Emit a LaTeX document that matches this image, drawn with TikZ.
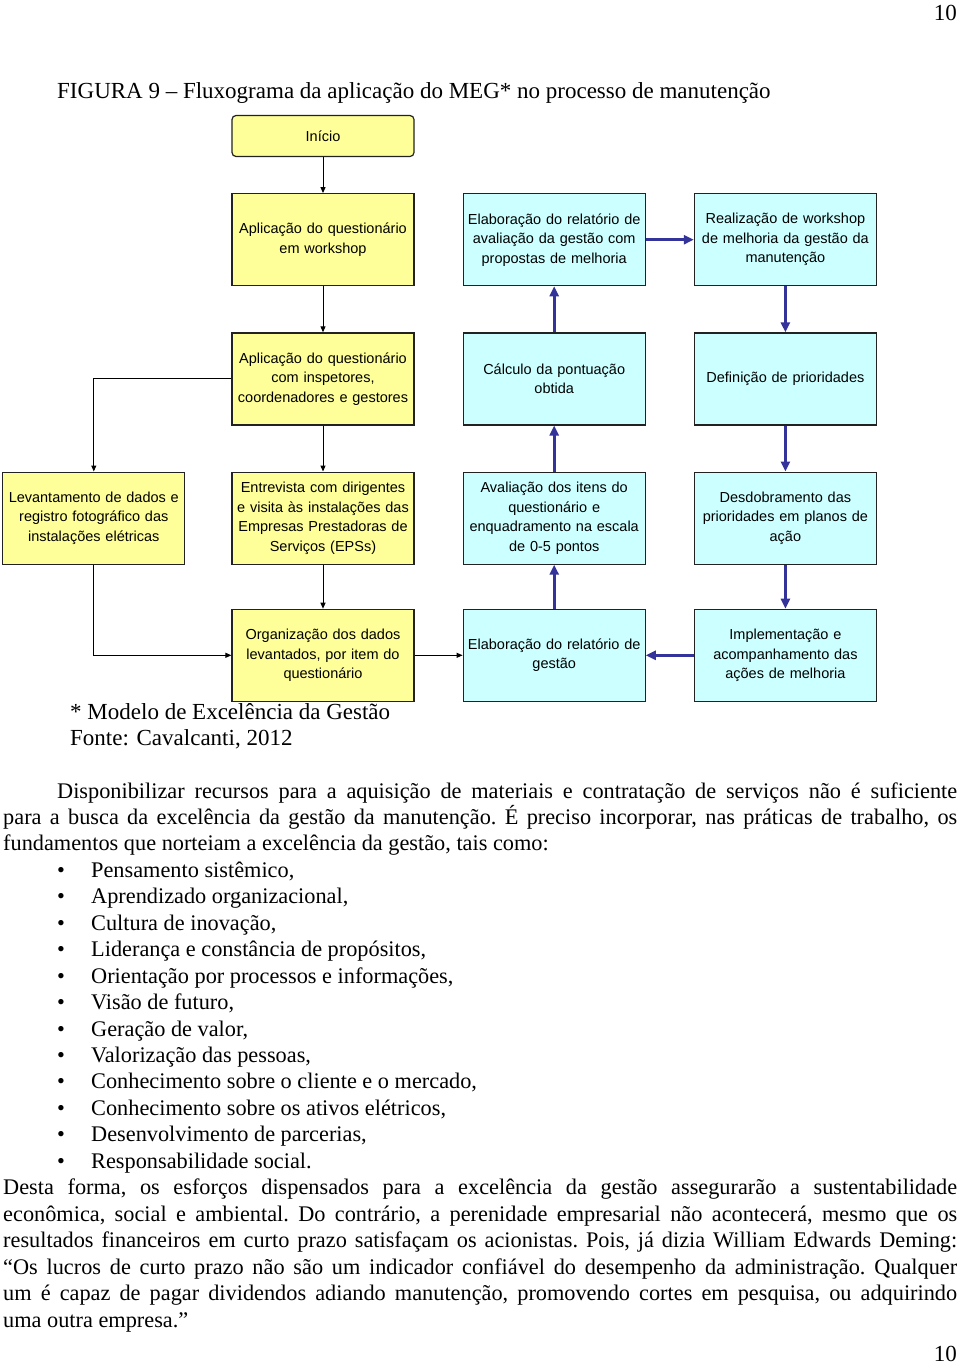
\documentclass[tikz,border=0pt]{standalone}
\usepackage{fontspec}
\setmainfont{Liberation Serif}
\setsansfont{Liberation Sans}
\usepackage{enumitem}
\usepackage{tikz}
\usetikzlibrary{positioning,arrows.meta}
\definecolor{amarelo}{HTML}{FFFF99}
\definecolor{ciano}{HTML}{CCFFFF}
\definecolor{azul}{HTML}{333399}
\definecolor{borda}{HTML}{222222}
\hyphenpenalty=10000
\exhyphenpenalty=10000
\newcommand{\caixafonte}{\sffamily\fontsize{14.5pt}{19.5pt}\selectfont}
\newcommand{\textofonte}{\rmfamily\fontsize{23pt}{26.45pt}\selectfont}
\newcommand{\corpofonte}{\rmfamily\fontsize{22.3pt}{26.45pt}\selectfont}
\tikzset{abox/.style={rectangle,draw=borda,line width=1.2pt,fill=amarelo,minimum width=182pt,minimum height=92pt,text width=178pt,align=center,inner sep=2pt,font=\caixafonte},
	 cbox/.style={abox,fill=ciano},
	 setap/.style={-{Triangle[length=6pt,width=5pt]},line width=1pt,black},
	 setaz/.style={-{Triangle[length=10pt,width=9pt]},line width=2.6pt,azul},
	 texto/.style={anchor=base west,inner sep=0pt,font=\textofonte},
	 node distance = 46pt and 48pt
	 }

\begin{document}
\begin{tikzpicture}[x=1pt,y=-1pt] % fluxograma MEG
	\useasboundingbox (0,0) rectangle (960,1365);
	\node[texto,anchor=base east] (pag1) at (957,20) {10};
	\node[texto] (titulo) at (57,98) {FIGURA 9 -- Fluxograma da aplicação do MEG* no processo de manutenção};
	\node[abox] (ini) at (323,136) [minimum width=158pt,minimum height=41pt,rounded corners=4pt] {Início};
	\node[abox] (qw) [below=36pt of ini] {Aplicação do questionário\\em workshop};
	\node[cbox] (rel) [right= of qw] {Elaboração do relatório de\\avaliação da gestão com\\propostas de melhoria};
	\node[cbox] (wks) [right= of rel] {Realização de workshop\\de melhoria da gestão da\\manutenção};
	\node[abox] (qi) [below= of qw] {Aplicação do questionário\\com inspetores,\\coordenadores e gestores};
	\node[cbox] (calc) [right= of qi] {Cálculo da pontuação\\obtida};
	\node[cbox] (prio) [right= of calc] {Definição de prioridades};
	\node[abox] (ent) [below= of qi] {Entrevista com dirigentes\\e visita às instalações das\\Empresas Prestadoras de\\Serviços (EPSs)};
	\node[abox] (lev) [left=46pt of ent] {Levantamento de dados e\\registro fotográfico das\\instalações elétricas};
	\node[cbox] (aval) [right= of ent] {Avaliação dos itens do\\questionário e\\enquadramento na escala\\de 0-5 pontos};
	\node[cbox] (desd) [right= of aval] {Desdobramento das\\prioridades em planos de\\ação};
	\node[abox] (org) [below=44pt of ent] {Organização dos dados\\levantados, por item do\\questionário};
	\node[cbox] (relg) [right= of org] {Elaboração do relatório de\\gestão};
	\node[cbox] (impl) [right= of relg] {Implementação e\\acompanhamento das\\ações de melhoria};
	\draw[setap] (ini) to (qw);
	\draw[setap] (qw) to (qi);
	\draw[setap] (qi) to (ent);
	\draw[setap] (qi.west) -| (lev.north);
	\draw[setap] (ent) to (org);
	\draw[setap] (lev.south) |- (org.west);
	\draw[setap] (org) to (relg);
	\draw[setaz] (relg) to (aval);
	\draw[setaz] (aval) to (calc);
	\draw[setaz] (calc) to (rel);
	\draw[setaz] (rel) to (wks);
	\draw[setaz] (wks) to (prio);
	\draw[setaz] (prio) to (desd);
	\draw[setaz] (desd) to (impl);
	\draw[setaz] (impl) to (relg);
	\node[texto] (nota) at (70,719) {* Modelo de Excelência da Gestão};
	\node[texto] (fonte) at (70,745) {Fonte: Cavalcanti, 2012};
	\node[texto,text width=954pt,align=justify,font=\corpofonte] (corpo) at (3,798) {%
	\setlength{\parindent}{0pt}\setlength{\parskip}{0pt}\frenchspacing\hyphenpenalty=10000
	\hspace*{54pt}Disponibilizar recursos para a aquisição de materiais e contratação de serviços não é suficiente\linebreak
	para a busca da excelência da gestão da manutenção. É preciso incorporar, nas práticas de trabalho, os\linebreak
	fundamentos que norteiam a excelência da gestão, tais como:
	\begin{itemize}[leftmargin=88pt,labelindent=54pt,labelwidth=10pt,labelsep=*,align=left,topsep=0pt,partopsep=0pt,itemsep=0pt,parsep=0pt,label=\textbullet]
	\item Pensamento sistêmico,
	\item Aprendizado organizacional,
	\item Cultura de inovação,
	\item Liderança e constância de propósitos,
	\item Orientação por processos e informações,
	\item Visão de futuro,
	\item Geração de valor,
	\item Valorização das pessoas,
	\item Conhecimento sobre o cliente e o mercado,
	\item Conhecimento sobre os ativos elétricos,
	\item Desenvolvimento de parcerias,
	\item Responsabilidade social.
	\end{itemize}
	\hyphenpenalty=10000
	Desta forma, os esforços dispensados para a excelência da gestão assegurarão a sustentabilidade\linebreak
	econômica, social e ambiental. Do contrário, a perenidade empresarial não acontecerá, mesmo que os\linebreak
	resultados financeiros em curto prazo satisfaçam os acionistas. Pois, já dizia William Edwards Deming:\linebreak
	“Os lucros de curto prazo não são um indicador confiável do desempenho da administração. Qualquer\linebreak
	um é capaz de pagar dividendos adiando manutenção, promovendo cortes em pesquisa, ou adquirindo\linebreak
	uma outra empresa.”\par};
	\node[texto,anchor=base east] (pag2) at (957,1361) {10};
\end{tikzpicture}
\end{document}
